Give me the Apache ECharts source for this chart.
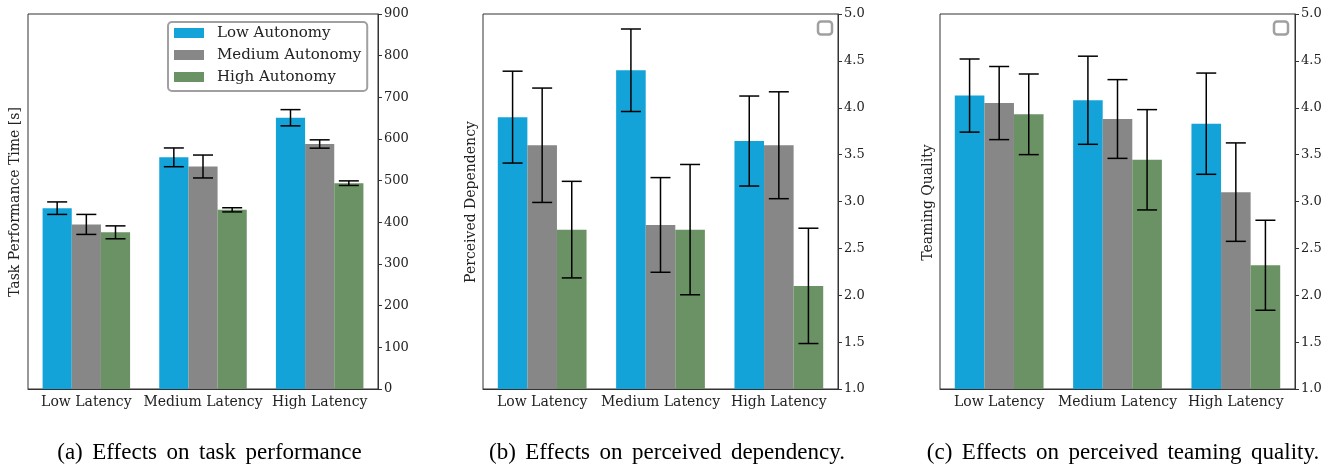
<!DOCTYPE html>
<html><head><meta charset="utf-8">
<script src="https://cdn.jsdelivr.net/npm/echarts@6/dist/echarts.min.js"></script>
<style>html,body{margin:0;padding:0;background:#fff}#c{width:1340px;height:466px}</style>
</head><body><div id="c"></div>
<script>
// ---------- data ----------
const categories = ['Low Latency', 'Medium Latency', 'High Latency'];
const autonomyNames = ['Low Autonomy', 'Medium Autonomy', 'High Autonomy'];

// (a) Task performance time [s]
const perfLowAut  = [434, 556, 651];
const perfMedAut  = [395, 534, 588];
const perfHighAut = [376, 430, 494];
const perfErrLowAut  = [15, 22.5, 19.5];
const perfErrMedAut  = [24, 27.5, 10];
const perfErrHighAut = [15.5, 5, 5.5];

// (b) Perceived dependency
const depLowAut  = [3.90, 4.40, 3.645];
const depMedAut  = [3.60, 2.75, 3.60];
const depHighAut = [2.70, 2.70, 2.10];
const depErrLowAut  = [0.49, 0.44, 0.48];
const depErrMedAut  = [0.61, 0.505, 0.57];
const depErrHighAut = [0.515, 0.695, 0.615];

// (c) Teaming quality
const tqLowAut  = [4.13, 4.08, 3.83];
const tqMedAut  = [4.05, 3.88, 3.10];
const tqHighAut = [3.93, 3.445, 2.32];
const tqErrLowAut  = [0.39, 0.47, 0.54];
const tqErrMedAut  = [0.39, 0.42, 0.525];
const tqErrHighAut = [0.43, 0.535, 0.48];

const perfTicks = {min: 0, max: 900, interval: 100};
const likertTicks = {min: 1, max: 5, interval: 0.5};

const yLabels = ['Task Performance Time [s]', 'Perceived Dependency', 'Teaming Quality'];
const captions = ['(a) Effects on task performance', '(b) Effects on perceived dependency.', '(c) Effects on perceived teaming quality.'];

// ---------- style ----------
const colors = ['#14a3d8', '#878787', '#6a9264'];
const BAR_FRAC = 0.25;
const SERIF = '"DejaVu Serif", serif';
const TIMES = '"Liberation Serif", "Times New Roman", serif';
const AX = '#333';

const panels = [
  {vals: [perfLowAut, perfMedAut, perfHighAut], errs: [perfErrLowAut, perfErrMedAut, perfErrHighAut], ticks: perfTicks, fmt: v => String(v),
   grid: {left: 28, right: 962, top: 14, bottom: 77}, ylab: [15, 202], cap: [209.5, 453]},
  {vals: [depLowAut, depMedAut, depHighAut], errs: [depErrLowAut, depErrMedAut, depErrHighAut], ticks: likertTicks, fmt: v => v.toFixed(1),
   grid: {left: 483, right: 502, top: 14, bottom: 77}, ylab: [471.5, 202], cap: [667, 453], box: [818, 21.5]},
  {vals: [tqLowAut, tqMedAut, tqHighAut], errs: [tqErrLowAut, tqErrMedAut, tqErrHighAut], ticks: likertTicks, fmt: v => v.toFixed(1),
   grid: {left: 940, right: 45, top: 14, bottom: 77}, ylab: [928, 202.5], cap: [1123, 453], box: [1274, 21.5]}
];

function errRender(k) {
  return function (params, api) {
    const x = api.value(0), y = api.value(1), e = api.value(2);
    const band = api.size([1, 0])[0];
    const c = api.coord([x, y]);
    const cx = c[0] + (k - 1) * band * BAR_FRAC;
    const top = api.coord([x, y + e])[1];
    const bot = api.coord([x, y - e])[1];
    const hw = 10;
    const st = {stroke: '#000', lineWidth: 1.5};
    return {type: 'group', children: [
      {type: 'line', shape: {x1: cx, y1: top, x2: cx, y2: bot}, style: st},
      {type: 'line', shape: {x1: cx - hw, y1: top, x2: cx + hw, y2: top}, style: st},
      {type: 'line', shape: {x1: cx - hw, y1: bot, x2: cx + hw, y2: bot}, style: st}
    ]};
  };
}

// justified-looking caption: words with widened gaps
function captionRich(s) {
  return s.split(' ').map(w => '{w|' + w + '}').join('{s| }');
}

const grids = [], xAxes = [], yAxes = [], series = [], graphics = [];
panels.forEach((p, gi) => {
  grids.push(Object.assign({show: true, borderColor: AX, borderWidth: 1, backgroundColor: 'transparent'}, p.grid));
  xAxes.push({
    type: 'category', gridIndex: gi, data: categories,
    axisLine: {lineStyle: {color: AX, width: 1}},
    axisTick: {alignWithLabel: true, length: 4, lineStyle: {color: AX}},
    axisLabel: {fontFamily: SERIF, fontSize: 14, color: '#222', margin: 6, interval: 0}
  });
  yAxes.push({
    type: 'value', gridIndex: gi, position: 'right',
    min: p.ticks.min, max: p.ticks.max, interval: p.ticks.interval,
    splitLine: {show: false},
    axisLine: {show: true, lineStyle: {color: AX, width: 1}},
    axisTick: {show: true, length: 4, lineStyle: {color: AX}},
    axisLabel: {fontFamily: SERIF, fontSize: 13, color: '#222', margin: 6, formatter: p.fmt}
  });
  p.vals.forEach((arr, k) => {
    series.push({
      type: 'bar', name: autonomyNames[k], xAxisIndex: gi, yAxisIndex: gi,
      data: arr, barWidth: (BAR_FRAC * 100) + '%', barGap: '0%',
      itemStyle: {color: colors[k]}, silent: true, z: 2
    });
  });
  p.vals.forEach((arr, k) => {
    series.push({
      type: 'custom', xAxisIndex: gi, yAxisIndex: gi, z: 5, silent: true,
      renderItem: errRender(k),
      encode: {x: 0, y: 1},
      data: arr.map((v, i) => [i, v, p.errs[k][i]])
    });
  });
  graphics.push({
    type: 'text', x: p.ylab[0], y: p.ylab[1], rotation: Math.PI / 2,
    style: {text: yLabels[gi], font: '14px ' + SERIF, fill: '#222', align: 'center', verticalAlign: 'middle', textAlign: 'center', textVerticalAlign: 'middle'}
  });
  graphics.push({
    type: 'text', x: p.cap[0], y: p.cap[1],
    style: {
      text: captionRich(captions[gi]), fill: '#000',
      align: 'center', verticalAlign: 'middle', textAlign: 'center', textVerticalAlign: 'middle',
      rich: {
        w: {fontFamily: TIMES, fontSize: 23, lineHeight: 26, fill: '#000'},
        s: {fontFamily: TIMES, fontSize: 23, lineHeight: 26, width: 9.5}
      }
    }
  });
  if (p.box) {
    graphics.push({
      type: 'rect', shape: {x: p.box[0], y: p.box[1], width: 14, height: 13, r: 3},
      style: {fill: '#fff', stroke: '#a0a0a0', lineWidth: 2.5}, z: 100
    });
  }
});

const chart = echarts.init(document.getElementById('c'), null, {renderer: 'canvas'});
chart.setOption({
  animation: false,
  backgroundColor: '#fff',
  grid: grids, xAxis: xAxes, yAxis: yAxes, series: series,
  legend: {
    data: autonomyNames, left: 168, top: 22, orient: 'vertical',
    icon: 'rect', itemWidth: 30, itemHeight: 10, itemGap: 6,
    padding: [3, 6, 6, 6], borderColor: '#a0a0a0', borderWidth: 2, borderRadius: 4,
    backgroundColor: '#fff', selectedMode: false,
    textStyle: {fontFamily: SERIF, fontSize: 15, color: '#222', lineHeight: 16, padding: [0, 0, 0, 8]}
  },
  graphic: graphics
});
</script></body></html>
